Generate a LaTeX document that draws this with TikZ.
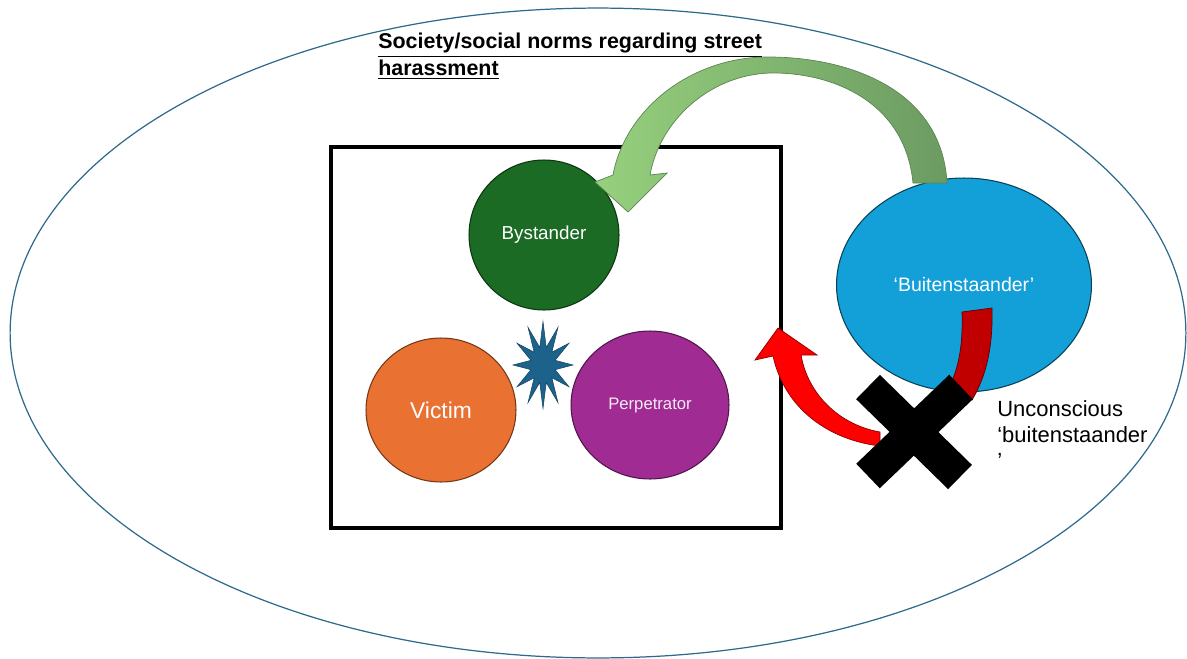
\documentclass[tikz,border=0pt]{standalone}
\usepackage{fontspec}
\setmainfont{Liberation Sans}
\usetikzlibrary{shapes.geometric}
\definecolor{ringblue}{RGB}{46,106,140}
\definecolor{bygreen}{RGB}{27,107,36}
\definecolor{vorange}{RGB}{233,113,50}
\definecolor{ppurple}{RGB}{160,43,147}
\definecolor{bblue}{RGB}{19,159,216}
\definecolor{starblue}{RGB}{29,98,138}
\definecolor{gLight}{RGB}{150,208,125}
\definecolor{gDark}{RGB}{108,155,98}
\definecolor{darkred}{RGB}{192,0,0}
\begin{document}
\begin{tikzpicture}[x=0.02cm,y=-0.02cm,
  actor/.style={ellipse,inner sep=0pt,text=white,line width=0.6pt},
  labeltext/.style={font=\fontsize{12.5}{15}\selectfont,align=left,inner sep=0pt}]
\useasboundingbox (0,0) rectangle (1187,659);
% outer society ellipse
\node[ellipse,draw=ringblue,line width=0.7pt,minimum width=23.52cm,minimum height=13cm,inner sep=0pt] (society) at (598,333) {};
\node[anchor=north west,inner sep=0pt,align=left,font=\bfseries\fontsize{12.2}{15.3}\selectfont] (title) at (378,33)
  {\underline{Society/social norms regarding street}\\\underline{harassment}};
% situation box
\node[draw=black,line width=2.3pt,minimum width=9cm,minimum height=7.62cm,inner sep=0pt] (box) at (556,337.5) {};
% actors
\node[actor,draw=bygreen!50!black,fill=bygreen,minimum width=3cm,minimum height=3cm,font=\fontsize{10.7}{12}\selectfont] (bystander) at (544,235) {Bystander};
\node[actor,draw=vorange!50!black,fill=vorange,minimum width=3cm,minimum height=2.88cm,font=\fontsize{13}{15}\selectfont] (victim) at (441,410) {Victim};
\node[actor,draw=ppurple!50!black,fill=ppurple,minimum width=3.16cm,minimum height=2.96cm,font=\fontsize{9.5}{12}\selectfont,text=white!90!ppurple] (perp) at (650,405) {Perpetrator};
\node[actor,draw=bblue!40!black,fill=bblue,minimum width=5.1cm,minimum height=4.28cm,font=\fontsize{11.1}{13}\selectfont] (buiten) at (964,285) {`Buitenstaander'};
% conflict star
\node[star,star points=12,star point ratio=2.4,fill=starblue,draw=starblue!70!black,line width=0.3pt,minimum size=1.2cm,inner sep=0pt,yscale=1.45,transform shape] (clash) at (543,365) {};
% green curved arrow from buitenstaander to bystander
\path[left color=gLight,right color=gDark,draw=gDark!85!black,line width=0.4pt]
  (913,183) .. controls (905,100) and (830,72) .. (770,73)
  .. controls (710,75) and (660,120) .. (650,175)
  -- (667,173) -- (628,212) -- (595,182) -- (613,175)
  .. controls (625,110) and (690,57) .. (768,57)
  .. controls (850,57) and (942,90) .. (947,183) -- cycle;
% red arrow towards the box
\path[fill=red,draw=red!55!black,line width=0.4pt]
  (778,328) -- (817,355) -- (801,355)
  .. controls (808,395) and (840,425) .. (880,432)
  -- (880,446) .. controls (830,440) and (785,410) .. (773,356)
  -- (755,360) -- cycle;
% dark red bar from buitenstaander
\path[fill=darkred,draw=darkred!50!black,line width=0.4pt]
  (962,312) -- (992,308) .. controls (993,345) and (987,375) .. (972,400)
  -- (950,385) .. controls (960,365) and (963,340) .. (962,312) -- cycle;
% black cross
\coordinate (xa) at (868,387);
\coordinate (xb) at (960,477);
\coordinate (xc) at (961,387);
\coordinate (xd) at (868,476);
\draw[line width=0.68cm,black] (xa) -- (xb);
\draw[line width=0.68cm,black] (xc) -- (xd);
\node[labeltext,anchor=north west] (unconscious) at (997,400)
  {Unconscious\\`buitenstaander\\'};
\end{tikzpicture}
\end{document}
